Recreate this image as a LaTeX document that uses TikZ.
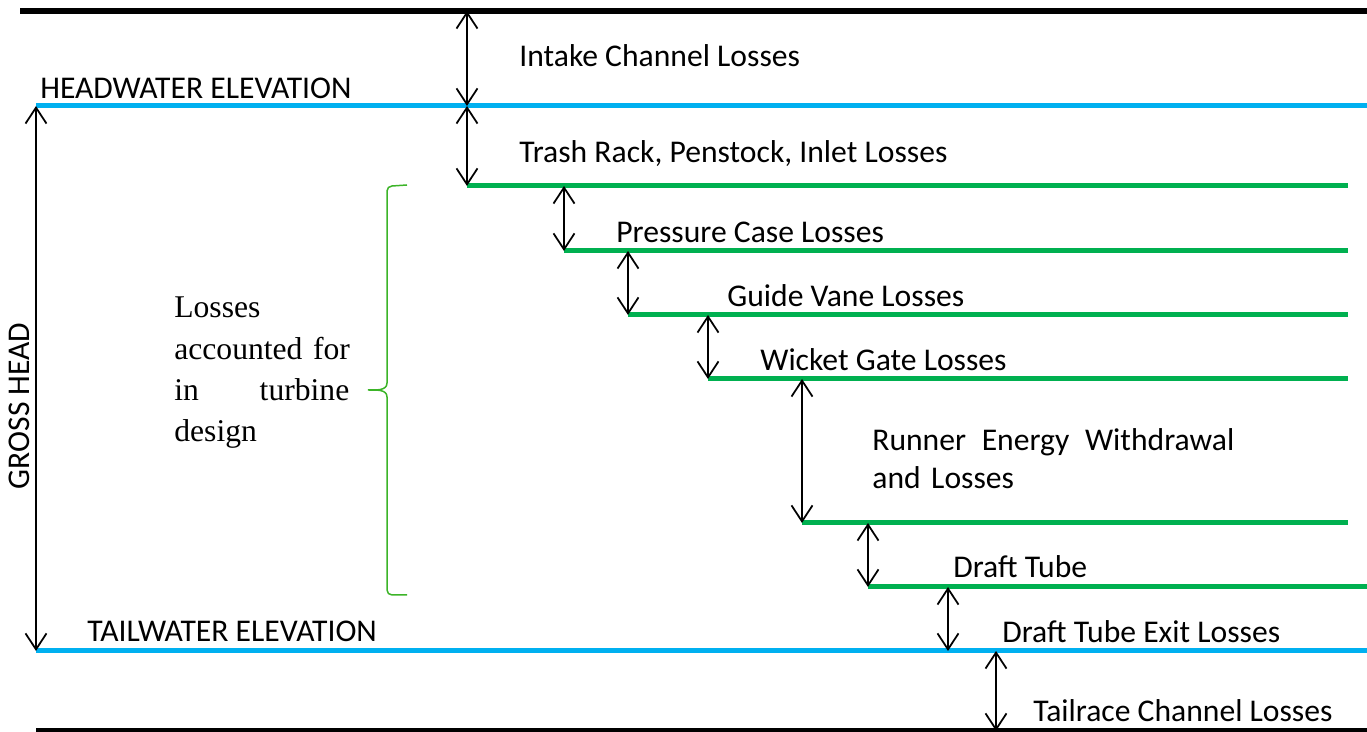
\documentclass[tikz,border=0pt]{standalone}
\usepackage{fontspec}
\setmainfont{Carlito}
\newfontfamily\serifface{Liberation Serif}
\usetikzlibrary{arrows.meta}
\definecolor{waterblue}{RGB}{0,176,240}
\definecolor{lossgreen}{RGB}{0,176,80}
\definecolor{bracegreen}{RGB}{60,180,40}

\begin{document}
\begin{tikzpicture}[x=0.02cm, y=-0.02cm,
  ground/.style={line width=0.12cm, black},
  water/.style={line width=0.1cm, waterblue},
  loss/.style={line width=0.1cm, lossgreen},
  dim/.style={{Straight Barb[length=0.32cm,width=0.42cm]}-{Straight Barb[length=0.32cm,width=0.42cm]}, line width=0.035cm},
  lbl/.style={anchor=base west, inner sep=0pt, font=\fontsize{18}{21.5}\selectfont}]
\useasboundingbox (0,0) rectangle (1367,732);

% levels
\coordinate (top_l) at (20,11);   \coordinate (top_r) at (1367,11);
\coordinate (head_l) at (36,106); \coordinate (head_r) at (1367,106);
\coordinate (trash_l) at (467,186);    \coordinate (trash_r) at (1348,186);
\coordinate (pressure_l) at (564,251); \coordinate (pressure_r) at (1348,251);
\coordinate (guide_l) at (628,315);    \coordinate (guide_r) at (1348,315);
\coordinate (wicket_l) at (708,379);   \coordinate (wicket_r) at (1348,379);
\coordinate (runner_l) at (802,523);   \coordinate (runner_r) at (1348,523);
\coordinate (draft_l) at (868,587);    \coordinate (draft_r) at (1367,587);
\coordinate (tail_l) at (36,651); \coordinate (tail_r) at (1367,651);
\coordinate (bottom_l) at (36,731); \coordinate (bottom_r) at (1367,731);
\coordinate (exit_top) at (948,587);  \coordinate (exit_bot) at (948,651);
\coordinate (race_top) at (996,651);  \coordinate (race_bot) at (996,731);

\draw[ground] (top_l) -- (top_r);
\draw[ground] (bottom_l) -- (bottom_r);
\draw[water] (head_l) -- (head_r);
\draw[water] (tail_l) -- (tail_r);
\draw[loss] (trash_l) -- (trash_r);
\draw[loss] (pressure_l) -- (pressure_r);
\draw[loss] (guide_l) -- (guide_r);
\draw[loss] (wicket_l) -- (wicket_r);
\draw[loss] (runner_l) -- (runner_r);
\draw[loss] (draft_l) -- (draft_r);

% head arrows
\draw[dim] (head_l) -- (tail_l);
\draw[dim] (trash_l |- top_l) -- (trash_l |- head_l);
\draw[dim] (trash_l |- head_l) -- (trash_l);
\draw[dim] (pressure_l |- trash_l) -- (pressure_l);
\draw[dim] (guide_l |- pressure_l) -- (guide_l);
\draw[dim] (wicket_l |- guide_l) -- (wicket_l);
\draw[dim] (runner_l |- wicket_l) -- (runner_l);
\draw[dim] (draft_l |- runner_l) -- (draft_l);
\draw[dim] (exit_top) -- (exit_bot);
\draw[dim] (race_top) -- (race_bot);

% labels
\node[lbl] (head_txt) at (40,99) {HEADWATER ELEVATION};
\node[lbl] (tail_txt) at (87,642) {TAILWATER ELEVATION};
\node[lbl, rotate=90, anchor=base] (gross_txt) at (30,406) {GROSS HEAD};
\node[lbl] (intake_txt) at (519,67) {Intake Channel Losses};
\node[lbl] (trash_txt) at (519,163) {Trash Rack, Penstock, Inlet Losses};
\node[lbl] (pressure_txt) at (616,243) {Pressure Case Losses};
\node[lbl] (guide_txt) at (727,307) {Guide Vane Losses};
\node[lbl] (wicket_txt) at (760,371) {Wicket Gate Losses};
\node[lbl, text width=7.24cm, align=left] (runner_txt) at (872,451)
  {Runner\hfill Energy\hfill Withdrawal\\and Losses};
\node[lbl] (draft_txt) at (953,578) {Draft Tube};
\node[lbl] (exit_txt) at (1002,643) {Draft Tube Exit Losses};
\node[lbl] (race_txt) at (1033,722) {Tailrace Channel Losses};

% turbine brace
\draw[bracegreen, line width=0.03cm] (407,185) -- (392,186) to[out=180,in=90] (387,191)
  -- (387,383) to[out=-90,in=0] (368,390) to[out=0,in=90] (387,397)
  -- (387,590) to[out=-90,in=180] (392,595) -- (407,595);
\node[lbl, text width=3.7cm, align=left, font=\serifface\fontsize{18}{23.4}\selectfont]
  (turbine_txt) at (174,318) {Losses\\accounted for\\\makebox[3.5cm][l]{in\hfill turbine}\\design};
\end{tikzpicture}
\end{document}
